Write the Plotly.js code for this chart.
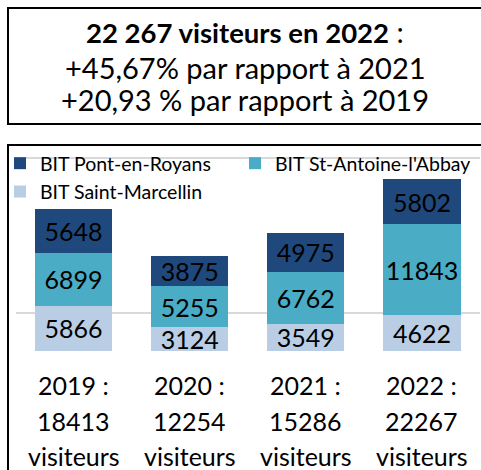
<!DOCTYPE html>
<html>
<head>
<meta charset="utf-8">
<script src="https://cdn.plot.ly/plotly-3.0.1.min.js"></script>
<style>
html,body{margin:0;padding:0;background:#fff;}
#chart{width:481px;height:470px;}
</style>
</head>
<body>
<div id="chart"></div>
<script>
// ---- data ----
const years = ['2019', '2020', '2021', '2022'];
const saintMarcellin = [5866, 3124, 3549, 4622];
const stAntoine = [6899, 5255, 6762, 11843];
const pontEnRoyans = [5648, 3875, 4975, 5802];
const seriesNames = ['BIT Saint-Marcellin', "BIT St-Antoine-l'Abbaye", 'BIT Pont-en-Royans'];
const headline = ['22 267 visiteurs en 2022', '+45,67% par rapport à 2021', '+20,93 % par rapport à 2019'];

// ---- styles ----
const W = 481, H = 470;
const colors = ['#B9CDE5', '#4BACC6', '#1F497D'];
const FONT = 'Lato, Calibri, Carlito, sans-serif';
const px = x => x / W;
const py = y => 1 - y / H;

const series = [saintMarcellin, stAntoine, pontEnRoyans];
const traces = series.map((vals, i) => ({
  type: 'bar',
  name: seriesNames[i],
  x: years,
  y: vals,
  marker: {color: colors[i], line: {width: 0}},
  text: vals.map(String),
  texttemplate: '%{text}',
  textposition: 'inside',
  insidetextanchor: 'middle',
  constraintext: 'none',
  textangle: 0,
  textfont: {family: FONT, size: 25, color: '#000'},
  hoverinfo: 'skip'
}));

const totals = years.map((_, k) => series.reduce((s, arr) => s + arr[k], 0));

const annotations = [];
// headline
annotations.push({xref: 'paper', yref: 'paper', x: px(245), y: py(32), xanchor: 'center', yanchor: 'middle',
  text: '<b>' + headline[0] + '</b><span style="font-size:29px"> :</span>', showarrow: false, font: {family: FONT, size: 27.5, color: '#000'}});
annotations.push({xref: 'paper', yref: 'paper', x: px(245), y: py(67), xanchor: 'center', yanchor: 'middle',
  text: headline[1], showarrow: false, font: {family: FONT, size: 29, color: '#000'}});
annotations.push({xref: 'paper', yref: 'paper', x: px(245), y: py(100), xanchor: 'center', yanchor: 'middle',
  text: headline[2], showarrow: false, font: {family: FONT, size: 29, color: '#000'}});
// category labels
years.forEach((yr, k) => {
  const lines = [yr + ' :', String(totals[k]), 'visiteurs'];
  const ys = [385, 421, 456];
  lines.forEach((t, j) => {
    annotations.push({xref: 'x', yref: 'paper', x: yr, y: py(ys[j]), xanchor: 'center', yanchor: 'middle',
      text: t, showarrow: false, font: {family: FONT, size: 25, color: '#000'}});
  });
});

const layout = {
  width: W, height: H,
  margin: {l: 0, r: 0, t: 0, b: 0, pad: 0},
  paper_bgcolor: '#fff', plot_bgcolor: 'rgba(0,0,0,0)',
  barmode: 'stack',
  bargap: 0.335,
  showlegend: true,
  legend: {orientation: 'h', traceorder: 'reversed', x: px(0), y: py(144), xanchor: 'left', yanchor: 'top',
    font: {family: FONT, size: 19.5, color: '#000'}, entrywidth: 190, entrywidthmode: 'pixels',
    bgcolor: 'rgba(0,0,0,0)', itemclick: false},
  xaxis: {domain: [px(15.5), px(480)], showgrid: false, showline: false, zeroline: false,
    showticklabels: false, ticks: '', fixedrange: true},
  yaxis: {domain: [py(467), py(156.5)], range: [-15000, 25200], tick0: -15000, dtick: 20000,
    showgrid: true, gridcolor: '#D9D9D9', gridwidth: 2, zeroline: false, showline: false,
    showticklabels: false, ticks: '', fixedrange: true},
  shapes: [
    {type: 'rect', xref: 'paper', yref: 'paper', x0: px(8), x1: px(495), y0: py(124), y1: py(8),
      line: {color: '#000', width: 2}, fillcolor: 'rgba(0,0,0,0)'},
    {type: 'rect', xref: 'paper', yref: 'paper', x0: px(8), x1: px(495), y0: py(485), y1: py(145),
      line: {color: '#000', width: 2}, fillcolor: 'rgba(0,0,0,0)', layer: 'below'}
  ],
  annotations: annotations
};

Plotly.newPlot('chart', traces, layout, {staticPlot: true, displayModeBar: false});
</script>
</body>
</html>
